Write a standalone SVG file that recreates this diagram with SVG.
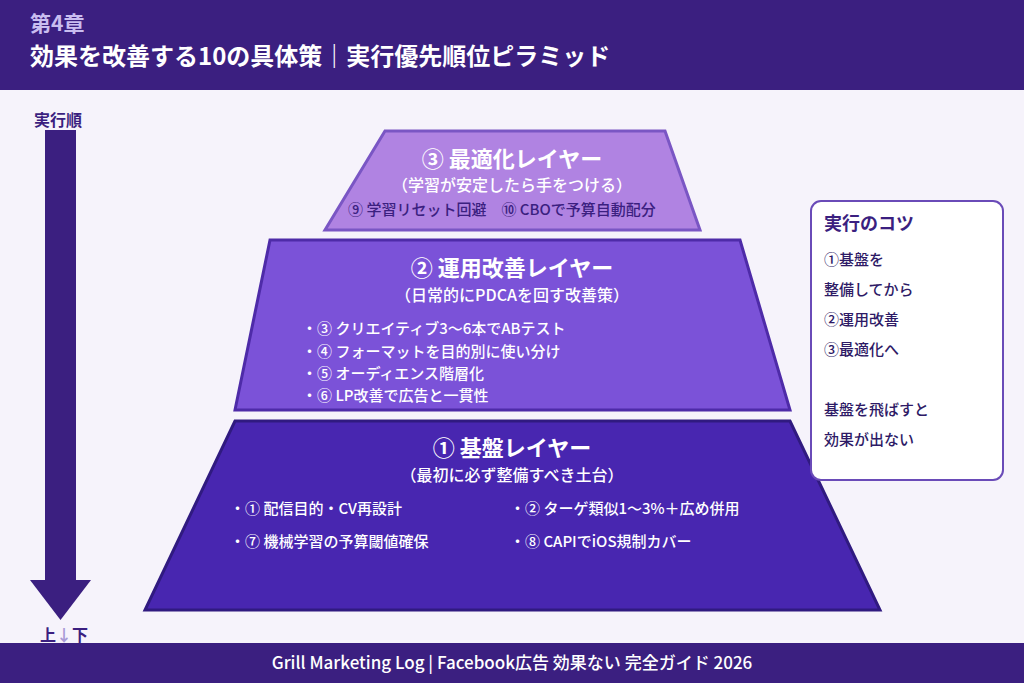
<svg xmlns="http://www.w3.org/2000/svg" width="1024" height="683" viewBox="0 0 1024 683">
<style>
text{font-family:"Noto Sans CJK JP","Noto Sans",sans-serif}
.w{fill:#fff}
.h{font-weight:bold;font-size:22px;fill:#fff}
.s{font-size:16px;fill:#fff;font-weight:500}
.b{font-size:15px;fill:#fff;font-weight:500}
.t{font-size:15px;fill:#2e1a66;font-weight:500}
</style>
<rect width="1024" height="683" fill="#f6f3fb"/>
<rect width="1024" height="90" fill="#3b1f80"/>
<text x="30" y="31" font-size="21" font-weight="bold" fill="#c9bdf0">第4章</text>
<text x="30" y="65" font-size="24" font-weight="bold" class="w">効果を改善する10の具体策｜実行優先順位ピラミッド</text>
<g id="arrow">
<text x="34" y="126" font-size="16" font-weight="bold" fill="#3b1f80">実行順</text>
<rect x="45" y="130" width="31" height="452" fill="#3b1f80"/>
<polygon points="30,580 91,580 60.5,620" fill="#3b1f80"/>
<text x="40" y="641" font-size="16" font-weight="bold" fill="#3b1f80">上<tspan fill="#a89ad6">↓</tspan>下</text>
</g>
<g id="layer3">
<polygon points="385,131 665,131 700,230 325,230" fill="#b083e2" stroke="#7a56c4" stroke-width="3"/>
<text x="512" y="167" text-anchor="middle" class="h">③ 最適化レイヤー</text>
<text x="512" y="191" text-anchor="middle" class="s">（学習が安定したら手をつける）</text>
<text x="502" y="215" text-anchor="middle" font-size="15" font-weight="500" fill="#3b1f80">⑨ 学習リセット回避　⑩ CBOで予算自動配分</text>
</g>
<g id="layer2">
<polygon points="270,240 740,240 790,410 235,410" fill="#7b52d8" stroke="#4e2ba8" stroke-width="3"/>
<text x="512" y="276" text-anchor="middle" class="h">② 運用改善レイヤー</text>
<text x="512" y="301" text-anchor="middle" class="s">（日常的にPDCAを回す改善策）</text>
<text x="302" y="334" class="b">・③ クリエイティブ3〜6本でABテスト</text>
<text x="302" y="357" class="b">・④ フォーマットを目的別に使い分け</text>
<text x="302" y="379" class="b">・⑤ オーディエンス階層化</text>
<text x="302" y="401" class="b">・⑥ LP改善で広告と一貫性</text>
</g>
<g id="layer1">
<polygon points="235,421 790,421 880,610 145,610" fill="#4826b0" stroke="#301a80" stroke-width="3"/>
<text x="512" y="456" text-anchor="middle" class="h">① 基盤レイヤー</text>
<text x="512" y="481" text-anchor="middle" class="s">（最初に必ず整備すべき土台）</text>
<text x="230" y="514" class="b">・① 配信目的・CV再設計</text>
<text x="510" y="514" class="b">・② ターゲ類似1〜3%＋広め併用</text>
<text x="230" y="547" class="b">・⑦ 機械学習の予算閾値確保</text>
<text x="510" y="547" class="b">・⑧ CAPIでiOS規制カバー</text>
</g>
<g id="tips">
<rect x="811" y="201" width="192" height="279" rx="10" fill="#fff" stroke="#6a4bb8" stroke-width="2"/>
<text x="824" y="230" font-size="18" font-weight="bold" fill="#3b1f80">実行のコツ</text>
<text x="824" y="265" class="t">①基盤を</text>
<text x="824" y="295" class="t">整備してから</text>
<text x="824" y="325" class="t">②運用改善</text>
<text x="824" y="355" class="t">③最適化へ</text>
<text x="824" y="415" class="t">基盤を飛ばすと</text>
<text x="824" y="445" class="t">効果が出ない</text>
</g>
<rect y="643" width="1024" height="40" fill="#3b1f80"/>
<text x="512" y="669" text-anchor="middle" font-size="17" font-weight="500" class="w">Grill Marketing Log | Facebook広告 効果ない 完全ガイド 2026</text>
</svg>
